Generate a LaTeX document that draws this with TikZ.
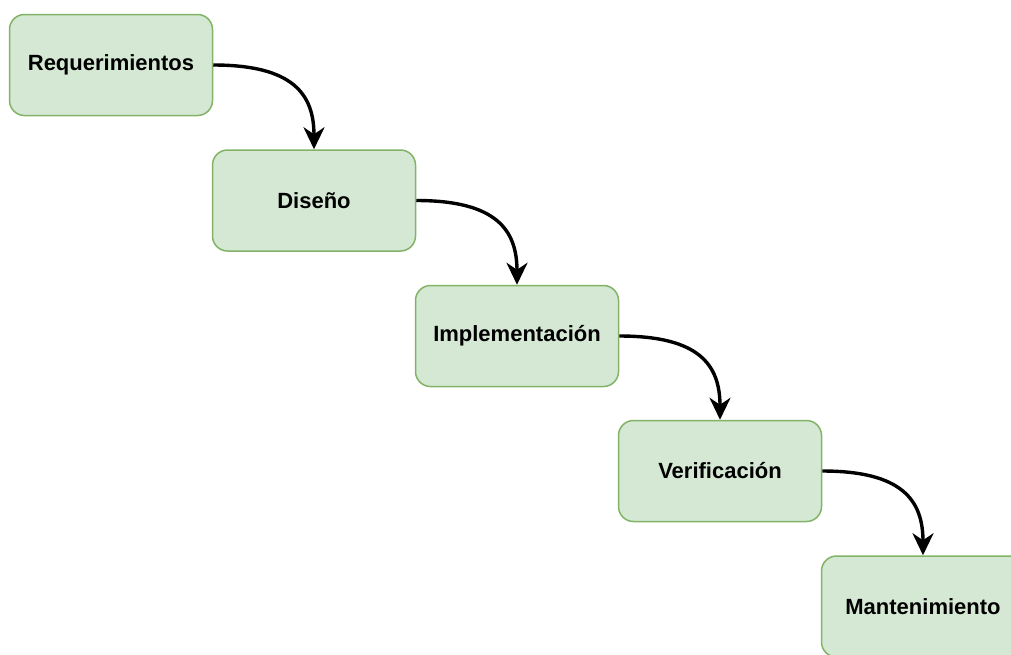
\documentclass[tikz,border=0pt]{standalone}
\usepackage{fontspec}
\setmainfont{Liberation Sans}
\usetikzlibrary{arrows.meta}
\definecolor{phasefill}{HTML}{D5E8D4}
\definecolor{phaseline}{HTML}{82B366}
\tikzset{
  phase/.style={draw=phaseline, fill=phasefill, line width=1.5pt,
    rounded corners=15pt, minimum width=203pt, minimum height=101pt,
    inner sep=0pt, font=\fontsize{22}{26}\selectfont\bfseries, text=black},
  flow/.style={line width=3.4pt, -{Stealth[length=22pt,width=21pt,inset=7pt]}}
}
\begin{document}
\begin{tikzpicture}[x=1pt,y=-1pt]
  \clip (0,0) rectangle (1011,654);
  \fill[white] (0,0) rectangle (1011,654);
  \node[phase] (req) at (111,65)    {Requerimientos};
  \node[phase] (dis) at (314,200.5) {Diseño};
  \node[phase] (imp) at (517,336)   {Implementación};
  \node[phase] (ver) at (720,471)   {Verificación};
  \node[phase] (man) at (923,606.5) {Mantenimiento};
  \draw[flow] (req.east) .. controls +(80,0) and +(0,-55) .. (dis.north);
  \draw[flow] (dis.east) .. controls +(80,0) and +(0,-55) .. (imp.north);
  \draw[flow] (imp.east) .. controls +(80,0) and +(0,-55) .. (ver.north);
  \draw[flow] (ver.east) .. controls +(80,0) and +(0,-55) .. (man.north);
\end{tikzpicture}
\end{document}
